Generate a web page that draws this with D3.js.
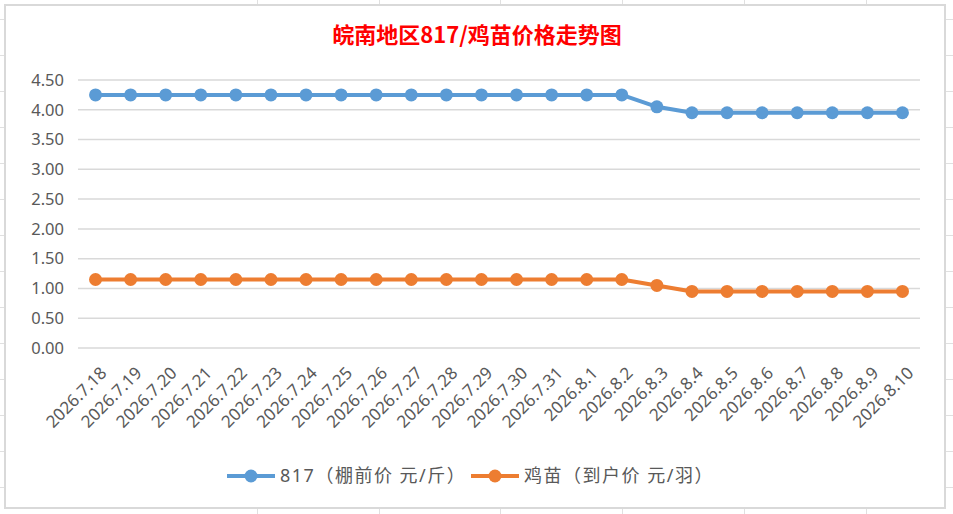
<!DOCTYPE html>
<html><head><meta charset="utf-8">
<script src="https://cdn.jsdelivr.net/npm/d3@7"></script>
<style>html,body{margin:0;padding:0;background:#fff;}svg{display:block;}</style>
</head><body>
<script>
const categories = ["2026.7.18","2026.7.19","2026.7.20","2026.7.21","2026.7.22","2026.7.23","2026.7.24","2026.7.25","2026.7.26","2026.7.27","2026.7.28","2026.7.29","2026.7.30","2026.7.31","2026.8.1","2026.8.2","2026.8.3","2026.8.4","2026.8.5","2026.8.6","2026.8.7","2026.8.8","2026.8.9","2026.8.10"];
const series817 = [4.25,4.25,4.25,4.25,4.25,4.25,4.25,4.25,4.25,4.25,4.25,4.25,4.25,4.25,4.25,4.25,4.05,3.95,3.95,3.95,3.95,3.95,3.95,3.95];
const seriesChick = [1.15,1.15,1.15,1.15,1.15,1.15,1.15,1.15,1.15,1.15,1.15,1.15,1.15,1.15,1.15,1.15,1.05,0.95,0.95,0.95,0.95,0.95,0.95,0.95];
const yTicks = [0,0.5,1,1.5,2,2.5,3,3.5,4,4.5];
const seriesNames = ["817（棚前价 元/斤）","鸡苗（到户价 元/羽）"];
const title = "皖南地区817/鸡苗价格走势图";

const W = 953, H = 514;
const svg = d3.select("body").append("svg").attr("width", W).attr("height", H);

// spreadsheet background grid
const bg = svg.append("g").attr("stroke", "#e0e0e0").attr("stroke-width", 1);
d3.range(19, H, 36).forEach(y => bg.append("line").attr("x1", 0).attr("x2", W).attr("y1", y + 0.5).attr("y2", y + 0.5));
d3.range(257, W, 121.7).forEach(x => bg.append("line").attr("y1", 0).attr("y2", H).attr("x1", Math.round(x) + 0.5).attr("x2", Math.round(x) + 0.5));

// chart area
svg.append("rect").attr("x", 5).attr("y", 5).attr("width", 940).attr("height", 503)
  .attr("fill", "#fff").attr("stroke", "#d9d9d9").attr("stroke-width", 2);

const x = d3.scaleBand().domain(categories).range([78, 920]);
const y = d3.scaleLinear().domain([0, 4.5]).range([348, 80]);
const cx = d => x(d) + x.bandwidth() / 2;

// gridlines
svg.append("g").selectAll("line").data(yTicks).join("line")
  .attr("x1", 78).attr("x2", 920)
  .attr("y1", d => y(d)).attr("y2", d => y(d))
  .attr("stroke", "#d9d9d9").attr("stroke-width", 1.5);

// y labels
const yAxis = d3.axisLeft(y).tickValues(yTicks).tickFormat(d3.format(".2f")).tickSize(0).tickPadding(0);
const yg = svg.append("g").attr("transform", "translate(64,0)").call(yAxis);
yg.select(".domain").remove();
yg.selectAll("text").attr("font-family", "'Noto Sans', sans-serif").attr("font-size", 16.5).attr("fill", "#595959");

// x labels
const xAxis = d3.axisBottom(x).tickSize(0).tickPadding(0);
const xg = svg.append("g").attr("transform", "translate(0,360)").call(xAxis);
xg.select(".domain").remove();
xg.selectAll("text")
  .attr("font-family", "'Noto Sans', sans-serif").attr("font-size", 17).attr("fill", "#595959")
  .attr("text-anchor", "end").attr("dy", "0.35em").attr("y", 0)
  .attr("transform", "translate(8,10) rotate(-45)");

// lines
const data = [
  {name: seriesNames[0], values: series817, color: "#5B9BD5"},
  {name: seriesNames[1], values: seriesChick, color: "#ED7D31"}
];
const line = d3.line().x((d, i) => cx(categories[i])).y(d => y(d));
data.forEach(s => {
  svg.append("path").attr("d", line(s.values)).attr("fill", "none")
    .attr("stroke", s.color).attr("stroke-width", 4).attr("stroke-linejoin", "round");
  svg.append("g").selectAll("circle").data(s.values).join("circle")
    .attr("cx", (d, i) => cx(categories[i])).attr("cy", d => y(d)).attr("r", 6.5).attr("fill", s.color);
});

// title
svg.append("text").attr("x", 477).attr("y", 43).attr("text-anchor", "middle")
  .attr("font-family", "'Noto Sans CJK SC', sans-serif").attr("font-weight", "bold")
  .attr("font-size", 22).attr("fill", "#FF0000").text(title);

// legend
const leg = [{x: 227, s: data[0]}, {x: 471, s: data[1]}];
leg.forEach(l => {
  const g = svg.append("g").attr("transform", `translate(${l.x},476)`);
  g.append("line").attr("x1", 0).attr("x2", 48).attr("y1", 0).attr("y2", 0).attr("stroke", l.s.color).attr("stroke-width", 4);
  g.append("circle").attr("cx", 24).attr("cy", 0).attr("r", 6.5).attr("fill", l.s.color);
  g.append("text").attr("x", 53).attr("y", 0).attr("dy", "0.36em").attr("letter-spacing", 1.5)
    .attr("font-family", "'Noto Sans', 'Noto Sans CJK SC', sans-serif").attr("font-size", 18).attr("fill", "#595959").text(l.s.name);
});
</script>
</body></html>
